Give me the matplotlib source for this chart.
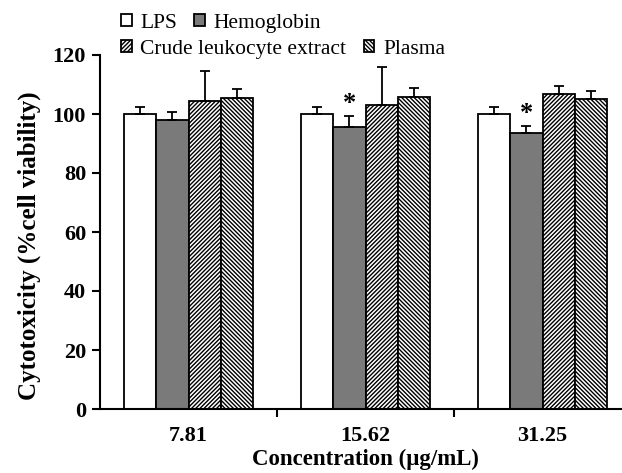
import matplotlib
matplotlib.use("Agg")
import matplotlib.pyplot as plt
import numpy as np

plt.rcParams['font.family'] = ['Liberation Serif', 'DejaVu Serif']
plt.rcParams['hatch.linewidth'] = 1.0

concentrations = ["7.81", "15.62", "31.25"]
series = ["LPS", "Hemoglobin", "Crude leukocyte extract", "Plasma"]
lps = [100.0, 100.0, 99.9]
hemoglobin = [97.8, 95.7, 93.4]
crude = [104.5, 103.2, 106.7]
plasma = [105.4, 105.9, 105.0]
lps_err = [2.5, 2.5, 2.4]
hemoglobin_err = [2.8, 3.7, 2.6]
crude_err = [10.1, 12.6, 2.7]
plasma_err = [3.0, 2.9, 2.8]
significant = [False, True, True]  # hemoglobin vs LPS

values = [lps, hemoglobin, crude, plasma]
errors = [lps_err, hemoglobin_err, crude_err, plasma_err]
colors = ["white", "#7a7a7a", "white", "white"]
hatches = [None, None, "////////", "\\\\\\\\\\\\\\\\"]

fig = plt.figure(figsize=(6.22, 4.73), dpi=100)
ax = fig.add_axes([100/622, 1-409/473, 531/622, 354/473])

x = np.arange(len(concentrations))
w = 0.183
bars = []
for i in range(4):
    pos = x + (i - 1.5) * w
    b = ax.bar(pos, values[i], w, color=colors[i], edgecolor="black",
               linewidth=1.3, hatch=hatches[i], label=series[i], zorder=2)
    ax.errorbar(pos, values[i], yerr=[np.zeros(3), errors[i]], fmt="none",
                ecolor="black", elinewidth=1.3, capsize=3.3, capthick=1.3, zorder=3)
    bars.append(b)

for j in range(3):
    if significant[j]:
        ax.text(x[j] - 0.5 * w, hemoglobin[j] + hemoglobin_err[j] + 0.3, "*",
                ha="center", va="bottom", fontsize=19, fontweight="bold")

ax.set_xlim(-0.5, 2.5)
ax.set_ylim(0, 120)
ax.set_yticks(range(0, 121, 20))
ax.set_xticks(x)
ax.set_xticklabels(concentrations)
ax.set_xticks([0.5, 1.5, 2.5], minor=True)
ax.tick_params(axis="x", which="major", length=0, pad=12)
ax.tick_params(axis="x", which="minor", length=6, width=1.5, direction="out")
ax.tick_params(axis="y", length=6, width=1.5, direction="out", pad=4)
for lbl in ax.get_xticklabels() + ax.get_yticklabels():
    lbl.set_fontsize(16)
    lbl.set_fontweight("bold")

for s in ["top", "right"]:
    ax.spines[s].set_visible(False)
for s in ["left", "bottom"]:
    ax.spines[s].set_linewidth(1.5)

ax.set_ylabel("Cytotoxicity (%cell viability)", fontsize=18, fontweight="bold")
ax.yaxis.set_label_coords(-0.111, 0.46)
ax.set_xlabel("Concentration (μg/mL)", fontsize=16.5, fontweight="bold", labelpad=2)

leg_kw = dict(ncol=2, frameon=False, fontsize=15.5, handlelength=0.5, handleheight=0.5,
              handletextpad=0.4, columnspacing=0.8, borderpad=0, borderaxespad=0,
              loc="upper left")
leg1 = fig.legend(handles=bars[:2], labels=series[:2],
                  bbox_to_anchor=(121/622, 1-14/473), **leg_kw)
leg2 = fig.legend(handles=bars[2:], labels=series[2:],
                  bbox_to_anchor=(121/622, 1-40/473), **leg_kw)

fig.savefig("out.png", dpi=100)
